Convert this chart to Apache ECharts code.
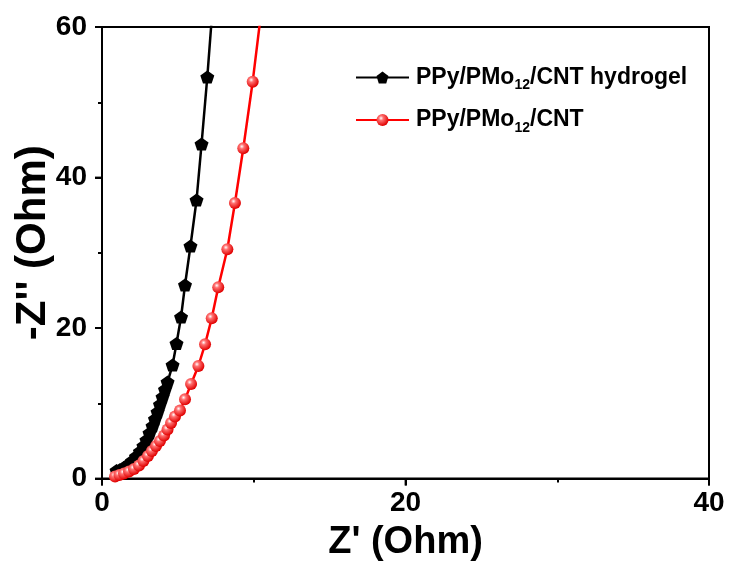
<!DOCTYPE html>
<html>
<head>
<meta charset="utf-8">
<script src="https://cdn.jsdelivr.net/npm/echarts@6/dist/echarts.min.js"></script>
<style>
  html, body { margin: 0; padding: 0; background: #fff; }
  #chart { width: 730px; height: 565px; }
</style>
</head>
<body>
<div id="chart"></div>
<script>
// Nyquist plot: Z' (real) vs -Z'' (imaginary), both in Ohm
const hydrogelZre = [0.96, 1.19, 1.45, 1.71, 1.98, 2.24, 2.50, 2.73, 2.93, 3.13, 3.33, 3.49, 3.66, 3.82, 3.99, 4.15, 4.32, 4.65, 4.91, 5.21, 5.47, 5.83, 6.23, 6.56, 6.94, 7.32];
const hydrogelZim = [1.06, 1.20, 1.46, 1.86, 2.33, 2.92, 3.59, 4.32, 5.12, 6.05, 6.98, 7.91, 8.84, 9.83, 10.83, 11.83, 12.82, 15.08, 17.94, 21.46, 25.71, 30.90, 37.01, 44.45, 53.36, 63.5];

const compositeZre = [0.86, 1.15, 1.45, 1.78, 2.11, 2.44, 2.73, 3.03, 3.29, 3.56, 3.82, 4.09, 4.32, 4.55, 4.81, 5.14, 5.47, 5.87, 6.35, 6.79, 7.23, 7.66, 8.26, 8.76, 9.31, 9.93, 10.52];
const compositeZim = [0.27, 0.47, 0.66, 0.93, 1.26, 1.73, 2.33, 2.99, 3.65, 4.32, 4.98, 5.71, 6.51, 7.38, 8.24, 9.04, 10.52, 12.56, 14.95, 17.83, 21.29, 25.41, 30.47, 36.61, 43.88, 52.73, 62.5];

const seriesNames = ['PPy/PMo12/CNT hydrogel', 'PPy/PMo12/CNT'];
const xTicks = { min: 0, max: 40, interval: 20 };
const yTicks = { min: 0, max: 60, interval: 20 };
const xTickValues = [0, 20, 40];
const yTickValues = [0, 20, 40, 60];

const FONT = '"Liberation Sans", Arial, sans-serif';

function pairs(xs, ys) { return xs.map((x, i) => [x, ys[i]]); }

const pentagon = 'path://M0,-1 L0.951,-0.309 L0.588,0.809 L-0.588,0.809 L-0.951,-0.309 Z';

const redBall = {
  type: 'radial', x: 0.38, y: 0.35, r: 0.65,
  colorStops: [
    { offset: 0, color: '#ffffff' },
    { offset: 0.3, color: '#ff7070' },
    { offset: 1, color: '#e00000' }
  ]
};

const chart = echarts.init(document.getElementById('chart'), null, { renderer: 'canvas' });

const tickStyle = { color: '#000', width: 2 };
const MAJOR_TICK = 7;

const axisCommon = {
  axisLine: { show: true, onZero: false, lineStyle: { color: '#000', width: 2 } },
  axisTick: { show: true, length: MAJOR_TICK, lineStyle: tickStyle },
  minorTick: { show: true, splitNumber: 2, length: 4, lineStyle: tickStyle },
  splitLine: { show: false },
  nameMoveOverlap: false,
  axisLabel: { color: '#000', fontFamily: FONT, fontWeight: 'bold', fontSize: 28 },
  nameTextStyle: { color: '#000', fontFamily: FONT, fontWeight: 'bold', fontSize: 38 }
};

// long outward tick marks at the labelled values, placed through the axes' own scales
function tickMarks(points, size, offset) {
  return {
    type: 'scatter',
    silent: true,
    clip: false,
    z: 5,
    data: points,
    symbol: 'rect',
    symbolSize: size,
    symbolOffset: offset,
    itemStyle: { color: '#000' },
    tooltip: { show: false }
  };
}

chart.setOption({
  backgroundColor: '#fff',
  animation: false,
  grid: {
    left: 102, top: 27, right: 21, bottom: 86.5,
    outerBoundsMode: 'none', containLabel: false,
    show: true, borderColor: '#000', borderWidth: 2, backgroundColor: 'transparent'
  },
  legend: {
    orient: 'vertical',
    left: 355, top: 66,
    padding: 0,
    itemWidth: 53, itemHeight: 15, itemGap: 16,
    data: seriesNames,
    formatter: function (name) {
      const parts = name.split('12');
      return '{t|' + parts[0] + '}{s|12}{t|' + parts[1] + '}';
    },
    textStyle: {
      color: '#000',
      padding: [0, 0, 0, 2],
      rich: {
        t: { fontFamily: FONT, fontWeight: 'bold', fontSize: 23, color: '#000' },
        s: { fontFamily: FONT, fontWeight: 'bold', fontSize: 14, color: '#000', padding: [16, 0, 0, 0] }
      }
    }
  },
  xAxis: Object.assign({}, axisCommon, {
    type: 'value', position: 'bottom',
    min: xTicks.min, max: xTicks.max, interval: xTicks.interval,
    name: "Z' (Ohm)", nameLocation: 'middle', nameGap: 45,
    axisLabel: Object.assign({}, axisCommon.axisLabel, { margin: 11 })
  }),
  yAxis: Object.assign({}, axisCommon, {
    type: 'value', position: 'left',
    min: yTicks.min, max: yTicks.max, interval: yTicks.interval,
    name: "-Z'' (Ohm)", nameLocation: 'middle', nameGap: 48, nameRotate: 90,
    nameTextStyle: Object.assign({}, axisCommon.nameTextStyle, { fontSize: 42, padding: [0, 0, 0, 20] }),
    axisLabel: Object.assign({}, axisCommon.axisLabel, { margin: 15 })
  }),
  series: [
    {
      name: seriesNames[0],
      type: 'line',
      data: pairs(hydrogelZre, hydrogelZim),
      symbol: pentagon,
      symbolSize: [14, 13],
      showAllSymbol: true,
      clip: true,
      lineStyle: { color: '#000', width: 2.5 },
      itemStyle: { color: '#000', borderWidth: 0 }
    },
    {
      name: seriesNames[1],
      type: 'line',
      data: pairs(compositeZre, compositeZim),
      symbol: 'circle',
      symbolSize: 12,
      showAllSymbol: true,
      clip: true,
      lineStyle: { color: '#ff0000', width: 2.5 },
      itemStyle: { color: redBall, borderWidth: 0 }
    },
    tickMarks(xTickValues.map(v => [v, yTicks.min]), [2, MAJOR_TICK], [0, MAJOR_TICK / 2]),
    tickMarks(yTickValues.map(v => [xTicks.min, v]), [MAJOR_TICK, 2], [-MAJOR_TICK / 2, 0])
  ]
});
</script>
</body>
</html>
